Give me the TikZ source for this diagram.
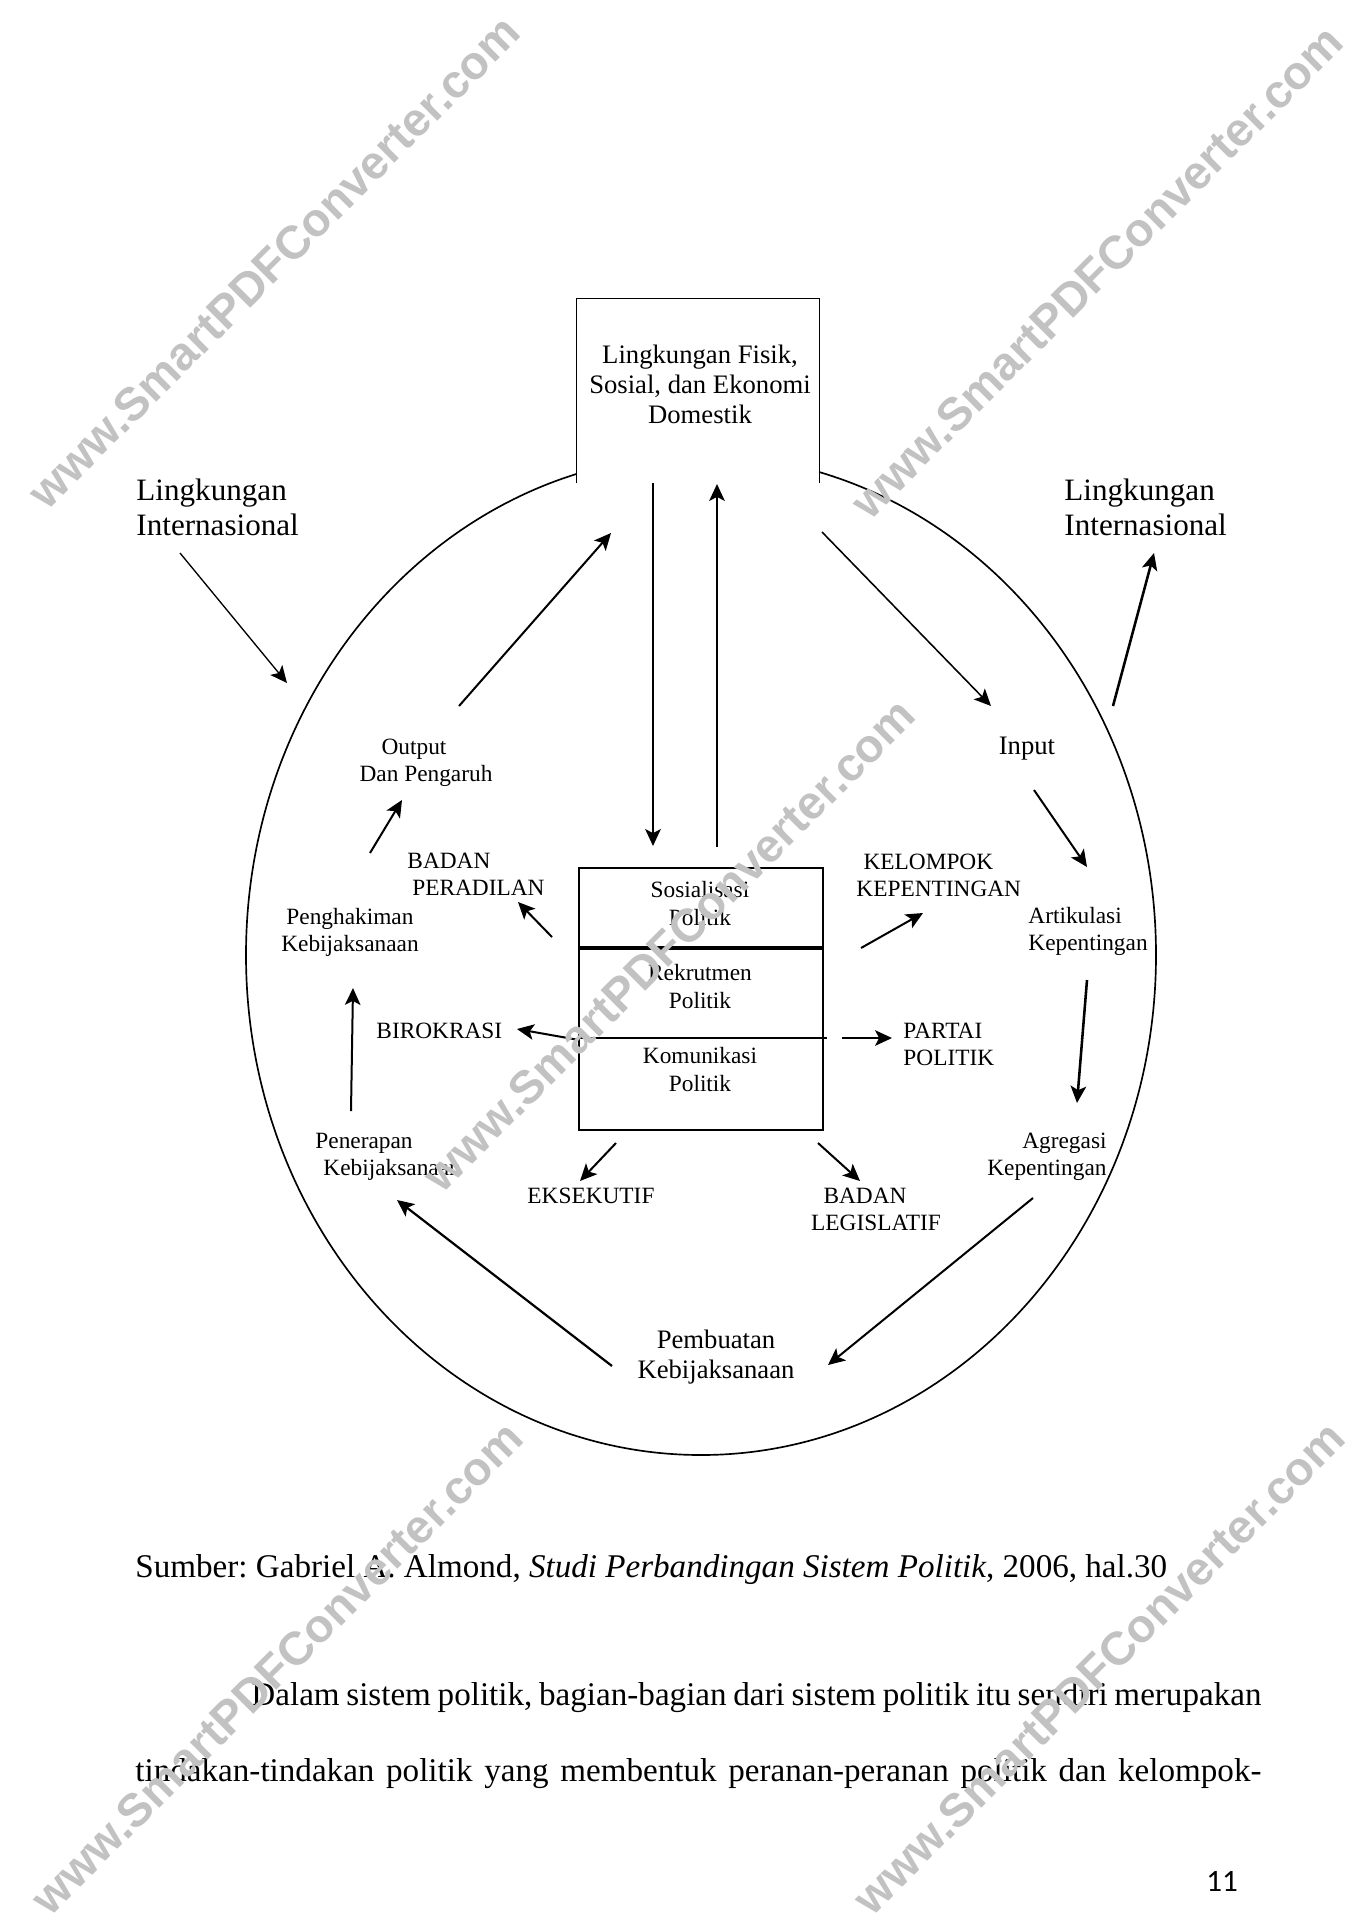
\documentclass[tikz,border=0pt]{standalone}
\usepackage{fontspec}
\setmainfont{Liberation Serif}
\newfontfamily\wmfont{Liberation Sans}
\newfontfamily\pgfont{Carlito}
\usetikzlibrary{arrows.meta}
\frenchspacing
\newcommand{\twol}[3]{\begin{tabular}[t]{@{}#1@{}}#2\\#3\end{tabular}}
\newcommand{\threel}[4]{\begin{tabular}[t]{@{}#1@{}}#2\\#3\\#4\end{tabular}}
\tikzset{
  lab/.style={inner sep=0pt,anchor=base,font=\fontsize{10.5}{12.15}\selectfont},
  inlab/.style={inner sep=0pt,anchor=base,font=\fontsize{10.5}{12.6}\selectfont},
  mid/.style={inner sep=0pt,anchor=base,font=\fontsize{12}{13.5}\selectfont},
  big/.style={inner sep=0pt,anchor=base west,font=\fontsize{14}{15.75}\selectfont},
  body/.style={inner sep=0pt,anchor=base west,font=\fontsize{14.9}{17}\selectfont\frenchspacing},
  wm/.style={inner sep=0pt,rotate=45,text=black!24,font=\wmfont\bfseries\fontsize{21}{21}\selectfont},
  arr/.style={-{Stealth[length=7.6pt,width=7pt,inset=1.8pt]},line width=0.9pt},
  arrthin/.style={arr,line width=0.6pt},
  arrthick/.style={arr,line width=1.15pt},
  frame/.style={line width=0.75pt}
}
\begin{document}
\begin{tikzpicture}[x=0.45pt,y=-0.45pt]
\useasboundingbox (0,0) rectangle (1348,1919);
\fill[white] (0,0) rectangle (1348,1919);

% outer ellipse
\draw[frame] (701,955) ellipse [x radius=204.75pt, y radius=225pt];

% domestic environment box (open at the bottom)
\node[fill=white,inner sep=0pt,minimum width=108.9pt,minimum height=82.8pt] (dombox) at (698,391) {};
\draw[frame] (dombox.south west) -- (dombox.north west) -- (dombox.north east) -- (dombox.south east);
\node[inner sep=0pt,anchor=base,font=\fontsize{12}{13.7}\selectfont] (dom) at (700,363)
  {\threel{c}{Lingkungan Fisik,}{Sosial, dan Ekonomi}{Domestik}};

% inner box
\node[draw,frame,inner sep=0pt,minimum width=109.8pt,minimum height=117.9pt] (inbox) at (701,999) {};
\coordinate (d1l) at (579,948); \coordinate (d1r) at (823,948);
\coordinate (d2l) at (579,1038); \coordinate (d2r) at (827,1038);
\draw[line width=1.5pt] (d1l) -- (d1r);
\draw[frame] (d2l) -- (d2r);
\node[inlab] (sos) at (700,897) {\twol{c}{Sosialisasi}{Politik}};
\node[inlab] (rek) at (700,980) {\twol{c}{Rekrutmen}{Politik}};
\node[inlab] (kom) at (700,1063) {\twol{c}{Komunikasi}{Politik}};

% labels
\node[big] (intL) at (136,500) {\twol{l}{Lingkungan}{Internasional}};
\node[big] (intR) at (1064,500) {\twol{l}{Lingkungan}{Internasional}};
\node[mid] (input) at (1027,754) {Input};
\node[lab,anchor=base west] (artik) at (1028,923) {\twol{l}{Artikulasi}{Kepentingan}};
\node[lab,anchor=base east] (agreg) at (1107,1148) {\twol{r}{Agregasi}{Kepentingan}};
\node[mid] (pemb) at (716,1348) {\twol{c}{Pembuatan}{Kebijaksanaan}};
\node[lab,anchor=base west] (pener) at (315,1148) {\twol{l}{Penerapan}{\hspace*{3.6pt}Kebijaksanaan}};
\node[lab] (pengh) at (350,924) {\twol{c}{Penghakiman}{Kebijaksanaan}};
\node[lab] (output) at (426,754) {\twol{c}{Output\hspace*{10.8pt}}{Dan Pengaruh}};
\node[lab,anchor=base west] (peradilan) at (407,868) {\twol{l}{BADAN}{\hspace*{2.2pt}PERADILAN}};
\node[lab,anchor=base west] (kelompok) at (856,869) {\twol{l}{\hspace*{3.2pt}KELOMPOK}{KEPENTINGAN}};
\node[lab,anchor=base west] (birokrasi) at (376,1038) {BIROKRASI};
\node[lab,anchor=base west] (partai) at (903,1038) {\twol{l}{PARTAI}{POLITIK}};
\node[lab,anchor=base west] (eksekutif) at (527,1203) {EKSEKUTIF};
\node[lab] (legislatif) at (876,1203) {\twol{c}{BADAN\hspace*{9.9pt}}{LEGISLATIF}};

% connector end points
\coordinate (a1s) at (180,553);  \coordinate (a1e) at (287,683);
\coordinate (a2s) at (1113,706); \coordinate (a2e) at (1154,553);
\coordinate (a3s) at (822,532);  \coordinate (a3e) at (991,706);
\coordinate (a4s) at (1034,790); \coordinate (a4e) at (1087,867);
\coordinate (a5s) at (1087,980); \coordinate (a5e) at (1077,1103);
\coordinate (a6s) at (1033,1198);\coordinate (a6e) at (828,1365);
\coordinate (a7s) at (612,1366); \coordinate (a7e) at (397,1200);
\coordinate (a8s) at (351,1111); \coordinate (a8e) at (353,988);
\coordinate (a9s) at (370,853);  \coordinate (a9e) at (402,800);
\coordinate (a10s) at (459,706); \coordinate (a10e) at (611,533);
\coordinate (a11s) at (653,483); \coordinate (a11e) at (653,846);
\coordinate (a12s) at (717,847); \coordinate (a12e) at (717,484);
\coordinate (a13s) at (552,937); \coordinate (a13e) at (518,902);
\coordinate (a14s) at (579,1040);\coordinate (a14e) at (517,1029);
\coordinate (a15s) at (861,948); \coordinate (a15e) at (923,913);
\coordinate (a16s) at (842,1038);\coordinate (a16e) at (892,1038);
\coordinate (a17s) at (616,1143);\coordinate (a17e) at (580,1181);
\coordinate (a18s) at (818,1143);\coordinate (a18e) at (860,1181);

\draw[arrthin] (a1s) -- (a1e);
\draw[arrthick] (a2s) -- (a2e);
\draw[arr,line width=0.7pt] (a3s) -- (a3e);
\draw[arr] (a4s) -- (a4e);
\draw[arrthick] (a5s) -- (a5e);
\draw[arr] (a6s) -- (a6e);
\draw[arr,line width=1pt] (a7s) -- (a7e);
\draw[arr] (a8s) -- (a8e);
\draw[arr] (a9s) -- (a9e);
\draw[arr] (a10s) -- (a10e);
\draw[arr,line width=1pt] (a11s) -- (a11e);
\draw[arr,line width=1pt] (a12s) -- (a12e);
\draw[arr] (a13s) -- (a13e);
\draw[arr] (a14s) -- (a14e);
\draw[arr] (a15s) -- (a15e);
\draw[arr] (a16s) -- (a16e);
\draw[arr] (a17s) -- (a17e);
\draw[arr] (a18s) -- (a18e);

% caption and body text
\node[body] (src) at (135,1577) {Sumber: Gabriel A. Almond, \textit{Studi Perbandingan Sistem Politik}, 2006, hal.30};
\node[body] (p1) at (251,1705) {\makebox[454.5pt][s]{Dalam sistem politik, bagian-bagian dari sistem politik itu sendiri merupakan}};
\node[body] (p2) at (135,1781) {\makebox[506.7pt][s]{tindakan-tindakan politik yang membentuk peranan-peranan politik dan kelompok-}};
\node[inner sep=0pt,anchor=base west,font=\pgfont\fontsize{14}{14}\selectfont] (pg) at (1206,1891) {11};

% watermarks
\node[wm] (wm1) at (274,262) {www.SmartPDFConverter.com};
\node[wm] (wm2) at (1097,272) {www.SmartPDFConverter.com};
\node[wm] (wm3) at (669,945) {www.SmartPDFConverter.com};
\node[wm] (wm4) at (277,1668) {www.SmartPDFConverter.com};
\node[wm] (wm5) at (1099,1668) {www.SmartPDFConverter.com};
\end{tikzpicture}
\end{document}
